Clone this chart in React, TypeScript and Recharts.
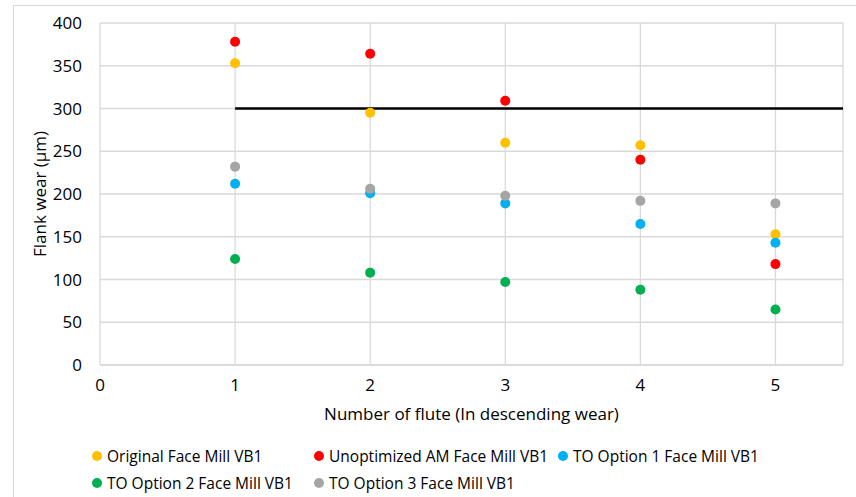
import React from "react";
import {
  ScatterChart,
  Scatter,
  XAxis,
  YAxis,
  CartesianGrid,
  ReferenceLine,
} from "recharts";

const flutes = [1, 2, 3, 4, 5];
const originalVB1 = [353, 295, 260, 257, 153];
const unoptimizedVB1 = [378, 364, 309, 240, 118];
const option1VB1 = [212, 201, 189, 165, 143];
const option2VB1 = [124, 108, 97, 88, 65];
const option3VB1 = [232, 206, 198, 192, 189];
const threshold = 300;
const xTicks = [0, 1, 2, 3, 4, 5];
const yTicks = [0, 50, 100, 150, 200, 250, 300, 350, 400];

const FONT = "'Open Sans', sans-serif";
const GRID = "#d9d9d9";

const series = [
  { name: "Original Face Mill VB1", values: originalVB1, color: "#FFC000" },
  { name: "Unoptimized AM Face Mill VB1", values: unoptimizedVB1, color: "#FF0000" },
  { name: "TO Option 1 Face Mill VB1", values: option1VB1, color: "#00B0F0" },
  { name: "TO Option 2 Face Mill VB1", values: option2VB1, color: "#00B050" },
  { name: "TO Option 3 Face Mill VB1", values: option3VB1, color: "#A5A5A5" },
];

const toPoints = (values: number[]) =>
  flutes.map((f, i) => ({ flute: f, wear: values[i] }));

// legend slots, as in the original two-row layout
const legendSlots = [
  { left: 92, top: 445 },
  { left: 314, top: 445 },
  { left: 558, top: 445 },
  { left: 92, top: 472 },
  { left: 314, top: 472 },
];

export default function App() {
  return (
    <div style={{ position: "absolute", left: 0, top: 0, width: 856, height: 497, background: "#fff", overflow: "hidden" }}>
      <div
        style={{
          position: "absolute",
          left: 13,
          top: 5,
          width: 860,
          height: 520,
          border: `1px solid ${GRID}`,
          boxSizing: "border-box",
        }}
      />
      <ScatterChart
        width={856}
        height={497}
        margin={{ top: 23, right: 13, left: 0, bottom: 77 }}
        style={{ position: "absolute", left: 0, top: 0 }}
      >
        <CartesianGrid stroke={GRID} strokeWidth={1.3} />
        <XAxis
          type="number"
          dataKey="flute"
          domain={[0, 5.5]}
          ticks={xTicks}
          height={55}
          tickLine={false}
          tickSize={0}
          tickMargin={14}
          axisLine={{ stroke: GRID, strokeWidth: 1.3 }}
          tick={{ fontFamily: FONT, fontSize: 17, fill: "#000" }}
          label={{
            value: "Number of flute (In descending wear)",
            position: "insideBottom",
            offset: 0,
            style: { fontFamily: FONT, fontSize: 17, fill: "#000" },
          }}
        />
        <YAxis
          type="number"
          dataKey="wear"
          domain={[0, 400]}
          ticks={yTicks}
          width={100}
          tickLine={false}
          tickSize={0}
          tickMargin={18}
          axisLine={false}
          tick={{ fontFamily: FONT, fontSize: 17, fill: "#000" }}
          label={{
            value: "Flank wear (µm)",
            angle: -90,
            position: "insideLeft",
            offset: 40,
            style: { fontFamily: FONT, fontSize: 17, fill: "#000", textAnchor: "middle" },
          }}
        />
        <ReferenceLine
          segment={[
            { x: 1, y: threshold },
            { x: 5.5, y: threshold },
          ]}
          stroke="#000"
          strokeWidth={2.5}
        />
        {series.map((s) => (
          <Scatter
            key={s.name}
            name={s.name}
            data={toPoints(s.values)}
            fill={s.color}
            isAnimationActive={false}
            shape={(p: any) => <circle cx={p.cx} cy={p.cy} r={5} fill={s.color} />}
          />
        ))}
      </ScatterChart>
      {series.map((s, i) => (
        <div
          key={s.name}
          style={{
            position: "absolute",
            left: legendSlots[i].left,
            top: legendSlots[i].top,
            display: "flex",
            alignItems: "center",
            fontFamily: FONT,
            fontSize: 15.5,
            color: "#000",
            whiteSpace: "nowrap",
          }}
        >
          <span
            style={{
              display: "inline-block",
              width: 10,
              height: 10,
              borderRadius: "50%",
              background: s.color,
              marginRight: 5,
            }}
          />
          {s.name}
        </div>
      ))}
    </div>
  );
}
